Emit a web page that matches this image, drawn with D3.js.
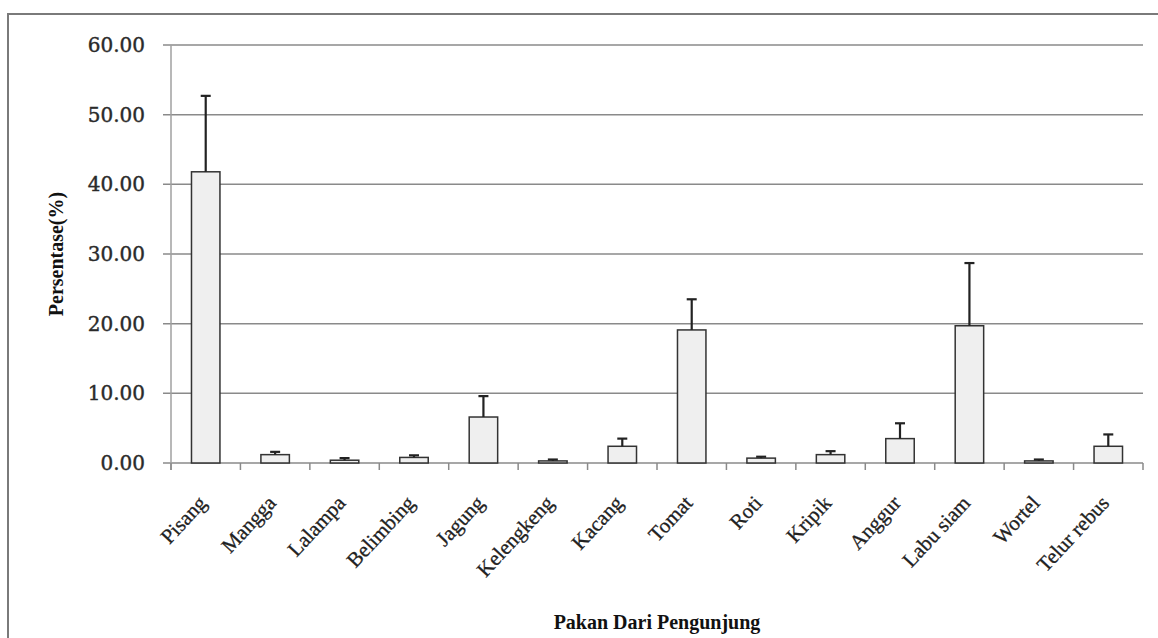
<!DOCTYPE html>
<html>
<head>
<meta charset="utf-8">
<script src="https://cdn.jsdelivr.net/npm/d3@7"></script>
<style>
  body { margin: 0; background: #fff; }
  svg { display: block; }
</style>
</head>
<body>
<div id="chart"></div>
<script>
// data
var categories = ['Pisang', 'Mangga', 'Lalampa', 'Belimbing', 'Jagung', 'Kelengkeng', 'Kacang',
                  'Tomat', 'Roti', 'Kripik', 'Anggur', 'Labu siam', 'Wortel', 'Telur rebus'];
var values = [41.8, 1.2, 0.4, 0.8, 6.6, 0.3, 2.4, 19.1, 0.7, 1.2, 3.5, 19.7, 0.3, 2.4];
var errors = [10.9, 0.4, 0.3, 0.3, 3.0, 0.2, 1.1, 4.4, 0.2, 0.5, 2.2, 9.0, 0.2, 1.7];
var yTicks = [0, 10, 20, 30, 40, 50, 60];

var width = 1158, height = 638;
var plotLeft = 171, plotRight = 1143, plotTop = 45, plotBottom = 463;

var svg = d3.select('#chart').append('svg')
    .attr('width', width)
    .attr('height', height);

// outer frame
svg.append('rect')
    .attr('x', 8).attr('y', 14)
    .attr('width', 1170).attr('height', 650)
    .attr('fill', 'none')
    .attr('stroke', '#7a7a7a')
    .attr('stroke-width', 2);

var x = d3.scaleBand()
    .domain(categories)
    .range([plotLeft, plotRight])
    .paddingInner(0.59)
    .paddingOuter(0.295);

var y = d3.scaleLinear()
    .domain([0, 60])
    .range([plotBottom, plotTop]);

// gridlines
svg.append('g')
    .selectAll('line')
    .data(yTicks)
    .enter()
    .append('line')
    .attr('x1', plotLeft - 8)
    .attr('x2', plotRight)
    .attr('y1', function(d) { return y(d); })
    .attr('y2', function(d) { return y(d); })
    .attr('stroke', '#8a8a8a')
    .attr('stroke-width', 1.5);

// y axis line
svg.append('line')
    .attr('x1', plotLeft).attr('x2', plotLeft)
    .attr('y1', plotTop).attr('y2', plotBottom + 7)
    .attr('stroke', '#a0a0a0')
    .attr('stroke-width', 1.5);

// x tick marks at band edges
var edges = categories.map(function(c) { return x(c) - x.step() * x.paddingInner() / 2; });
edges.push(plotRight);
svg.append('g')
    .selectAll('line')
    .data(edges)
    .enter()
    .append('line')
    .attr('x1', function(d) { return d; })
    .attr('x2', function(d) { return d; })
    .attr('y1', plotBottom)
    .attr('y2', plotBottom + 7)
    .attr('stroke', '#8a8a8a')
    .attr('stroke-width', 1.5);

// y tick labels
svg.append('g')
    .selectAll('text')
    .data(yTicks)
    .enter()
    .append('text')
    .attr('x', plotLeft - 26)
    .attr('y', function(d) { return y(d) + 7; })
    .attr('text-anchor', 'end')
    .style('font-family', 'DejaVu Serif')
    .style('font-size', '20px')
    .style('fill', '#2a2a2a')
    .style('stroke', '#2a2a2a')
    .style('stroke-width', 0.4)
    .text(function(d) { return d.toFixed(2); });

// bars
svg.append('g')
    .selectAll('rect')
    .data(values)
    .enter()
    .append('rect')
    .attr('x', function(d, i) { return x(categories[i]); })
    .attr('y', function(d) { return y(d); })
    .attr('width', x.bandwidth())
    .attr('height', function(d) { return plotBottom - y(d); })
    .attr('fill', '#efefef')
    .attr('stroke', '#333')
    .attr('stroke-width', 1.5);

// error bars (upper only)
var err = svg.append('g')
    .selectAll('g')
    .data(values)
    .enter()
    .append('g')
    .attr('stroke', '#222')
    .attr('stroke-width', 2.2);

err.append('line')
    .attr('x1', function(d, i) { return x(categories[i]) + x.bandwidth() / 2; })
    .attr('x2', function(d, i) { return x(categories[i]) + x.bandwidth() / 2; })
    .attr('y1', function(d) { return y(d); })
    .attr('y2', function(d, i) { return y(d + errors[i]); });

err.append('line')
    .attr('x1', function(d, i) { return x(categories[i]) + x.bandwidth() / 2 - 5; })
    .attr('x2', function(d, i) { return x(categories[i]) + x.bandwidth() / 2 + 5; })
    .attr('y1', function(d, i) { return y(d + errors[i]); })
    .attr('y2', function(d, i) { return y(d + errors[i]); });

// category labels
svg.append('g')
    .selectAll('text')
    .data(categories)
    .enter()
    .append('text')
    .attr('transform', function(d) {
        return 'translate(' + (x(d) + x.bandwidth() / 2 + 2) + ',' + 504 + ') rotate(-47)';
    })
    .attr('text-anchor', 'end')
    .style('font-family', 'Liberation Serif')
    .style('font-size', '21px')
    .style('fill', '#222')
    .style('stroke', '#222')
    .style('stroke-width', 0.3)
    .text(function(d) { return d; });

// axis titles
svg.append('text')
    .attr('transform', 'translate(63,' + 254 + ') rotate(-90)')
    .attr('text-anchor', 'middle')
    .style('font-family', 'Liberation Serif')
    .style('font-size', '20px')
    .style('font-weight', 'bold')
    .style('fill', '#111')
    .text('Persentase(%)');

svg.append('text')
    .attr('x', 657)
    .attr('y', 629)
    .attr('text-anchor', 'middle')
    .style('font-family', 'Liberation Serif')
    .style('font-size', '20px')
    .style('font-weight', 'bold')
    .style('fill', '#111')
    .text('Pakan Dari Pengunjung');
</script>
</body>
</html>
